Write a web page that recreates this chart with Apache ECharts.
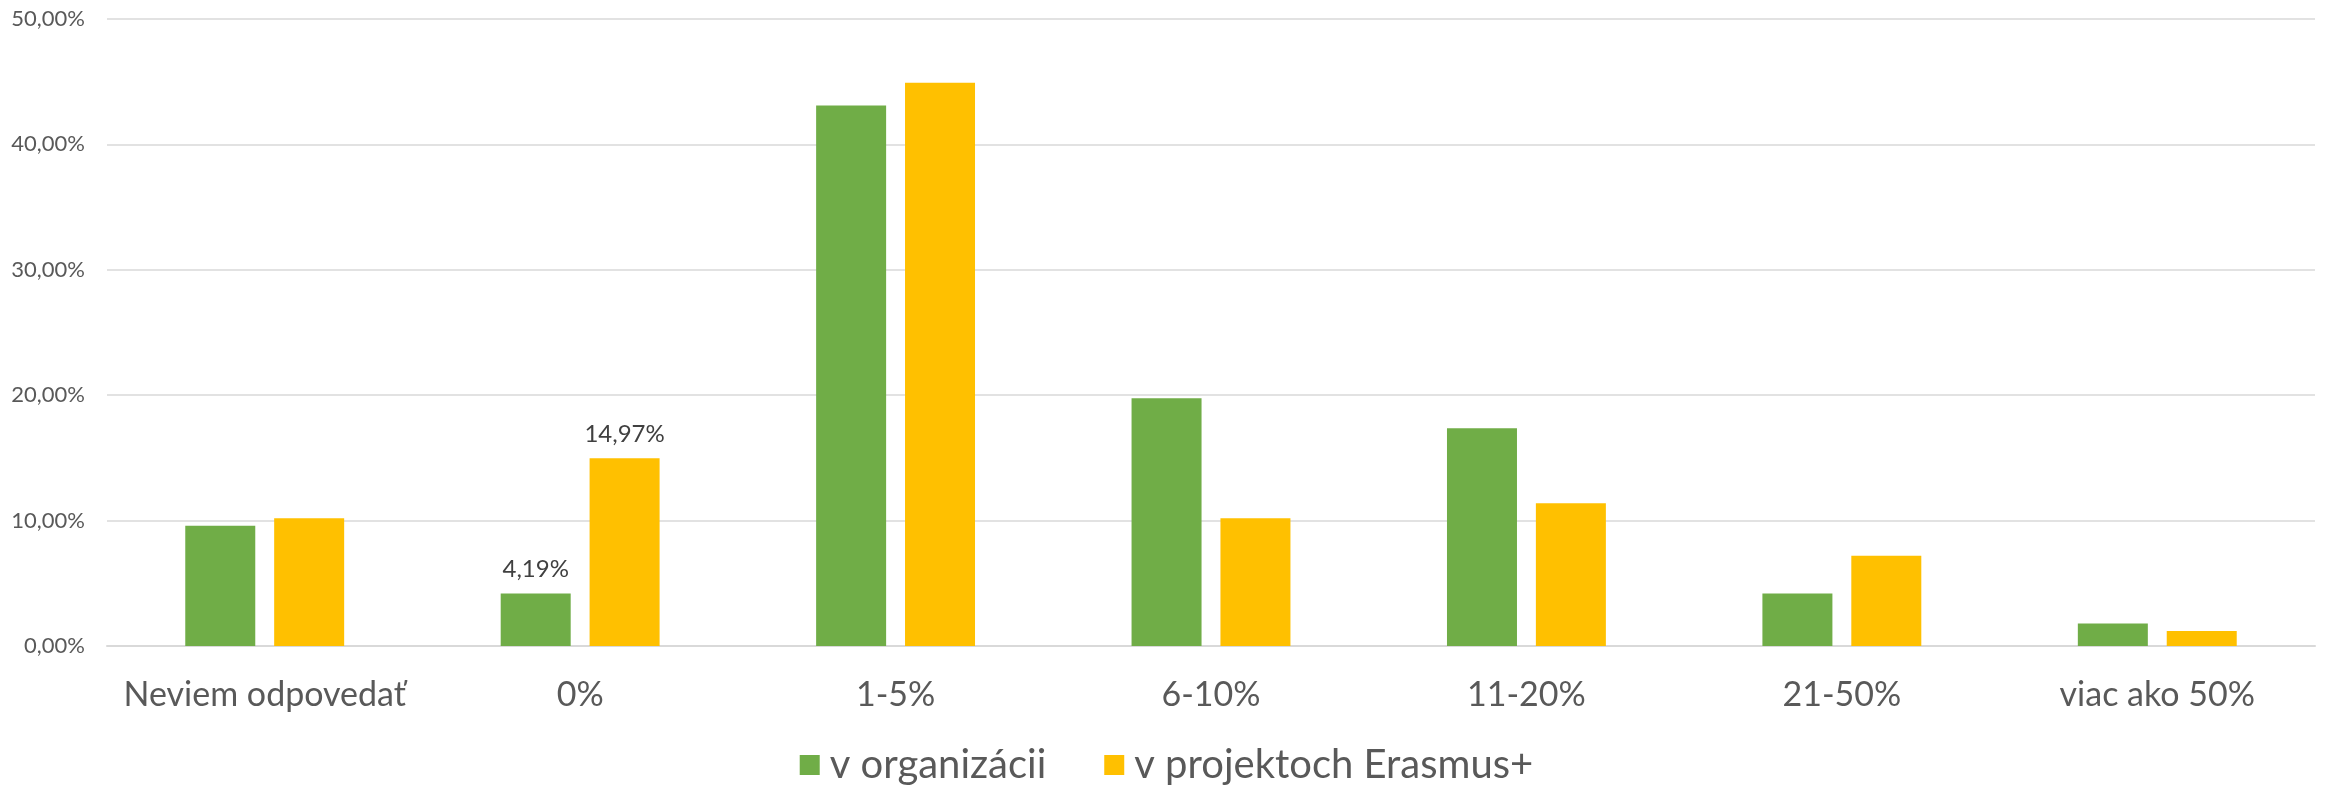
<!DOCTYPE html>
<html>
<head>
<meta charset="utf-8">
<script src="https://cdn.jsdelivr.net/npm/echarts@6/dist/echarts.min.js"></script>
<style>
  html, body { margin: 0; padding: 0; background: #fff; }
  #chart { width: 2333px; height: 789px; }
</style>
</head>
<body>
<div id="chart"></div>
<script>
// podiel (v %) – odčítané z grafu
const categories = ['Neviem odpovedať', '0%', '1-5%', '6-10%', '11-20%', '21-50%', 'viac ako 50%'];
const seriesNames = ['v organizácii', 'v projektoch Erasmus+'];
const organizacia = [9.58, 4.19, 43.11, 19.76, 17.37, 4.19, 1.80];
const erasmus = [10.18, 14.97, 44.91, 10.18, 11.38, 7.19, 1.20];
const labelledIndex = 1; // only "0%" has data labels in the original

const font = 'Lato, "Open Sans", sans-serif';
const textColor = '#595959';
const fmt = v => v.toFixed(2).replace('.', ',') + '%';

function withLabels(values) {
  return values.map((v, i) => {
    if (i !== labelledIndex) return v;
    return {
      value: v,
      label: {
        show: true, position: 'top', distance: 12,
        formatter: p => fmt(p.value),
        color: '#404040', fontSize: 24, fontFamily: font
      }
    };
  });
}

const chart = echarts.init(document.getElementById('chart'));
chart.setOption({
  animation: false,
  backgroundColor: '#fff',
  grid: { left: 107, right: 18, top: 19, bottom: 143 },
  legend: {
    data: seriesNames,
    top: 740,
    left: 'center',
    itemWidth: 20, itemHeight: 20, itemGap: 58,
    icon: 'rect',
    textStyle: { color: textColor, fontSize: 40, fontFamily: font, padding: [0, 0, 0, 5] }
  },
  xAxis: {
    type: 'category',
    data: categories,
    axisTick: { show: false },
    axisLine: { lineStyle: { color: '#d9d9d9', width: 2 } },
    axisLabel: { color: textColor, fontSize: 34, fontFamily: font, margin: 32, interval: 0 }
  },
  yAxis: {
    type: 'value',
    min: 0, max: 50, interval: 10,
    axisLine: { show: false },
    axisTick: { show: false },
    splitLine: { lineStyle: { color: '#d9d9d9', width: 1.5 } },
    axisLabel: { color: textColor, fontSize: 22, fontFamily: font, margin: 22, formatter: fmt }
  },
  series: [
    {
      name: seriesNames[0], type: 'bar',
      data: withLabels(organizacia),
      barWidth: 70, barGap: '27%',
      itemStyle: { color: '#70ad47' }
    },
    {
      name: seriesNames[1], type: 'bar',
      data: withLabels(erasmus),
      barWidth: 70,
      itemStyle: { color: '#ffc000' }
    }
  ]
});
</script>
</body>
</html>
